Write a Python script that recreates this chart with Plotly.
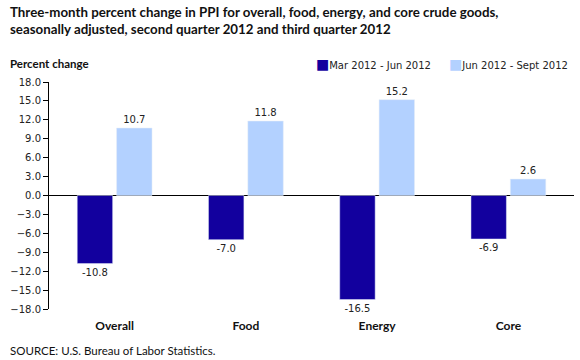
import plotly.graph_objects as go

categories = ["Overall", "Food", "Energy", "Core"]
q2_values = [-10.8, -7.0, -16.5, -6.9]
q3_values = [10.7, 11.8, 15.2, 2.6]
series_names = ["Mar 2012 - Jun 2012", "Jun 2012 - Sept 2012"]
tick_vals = [18, 15, 12, 9, 6, 3, 0, -3, -6, -9, -12, -15, -18]

dark = "#12009E"
light = "#B3D1FF"
colors = [dark, light]
tick_font = dict(family="DejaVu Sans", size=10, color="#222")

fig = go.Figure()
for name, vals, col in zip(series_names, [q2_values, q3_values], colors):
    fig.add_trace(go.Bar(x=categories, y=vals, name=name, marker_color=col,
                         text=[f"{v:.1f}" for v in vals], textposition="outside",
                         textfont=tick_font, cliponaxis=False))

fig.update_layout(
    width=580, height=360,
    margin=dict(l=49, r=6, t=82, b=51, autoexpand=False),
    paper_bgcolor="white", plot_bgcolor="white",
    barmode="group", bargap=0.4, bargroupgap=0.1,
    showlegend=False,
    font=dict(family="DejaVu Sans", size=11, color="#222"),
)
fig.update_xaxes(showgrid=False, showline=False, ticks="", ticklabelstandoff=8,
                 tickfont=dict(family="Lato", size=12, color="#111", weight="bold"))
fig.update_yaxes(range=[-18, 18], tickvals=tick_vals, tickformat=".1f",
                 showgrid=False, zeroline=True, zerolinecolor="black", zerolinewidth=1,
                 showline=True, linecolor="black", linewidth=1,
                 ticks="outside", ticklen=5, tickcolor="black", tickfont=tick_font)

# legend entries (square marker + series name)
legend_x = [314, 447]
for name, col, lx in zip(series_names, colors, legend_x):
    fig.add_annotation(text=f'<span style="color:{col};font-size:14px">■</span>{name}',
                       xref="paper", yref="paper", x=(lx - 49) / 525, y=1 + 18/227,
                       xanchor="left", yanchor="middle", showarrow=False,
                       font=dict(family="DejaVu Sans", size=10, color="#222"))

fig.add_annotation(text="<b>Three-month percent change in PPI for overall, food, energy, and core crude goods,<br>seasonally adjusted, second quarter 2012 and third quarter 2012</b>",
                   xref="paper", yref="paper", x=-41/525, y=1 + 80/227, xanchor="left", yanchor="top",
                   align="left", showarrow=False,
                   font=dict(family="Lato", size=13.3, color="#111"))
fig.add_annotation(text="<b>Percent change</b>", xref="paper", yref="paper",
                   x=-41/525, y=1 + 19/227, xanchor="left", yanchor="middle",
                   showarrow=False, font=dict(family="Lato", size=11.5, color="#111"))
fig.add_annotation(text="SOURCE: U.S. Bureau of Labor Statistics.", xref="paper", yref="paper",
                   x=-41/525, y=-41/227, xanchor="left", yanchor="middle",
                   showarrow=False, font=dict(family="Lato", size=11.5, color="#111"))

fig.write_html("out.html", config={"displayModeBar": False},
               post_script="document.body.style.margin='0';")
